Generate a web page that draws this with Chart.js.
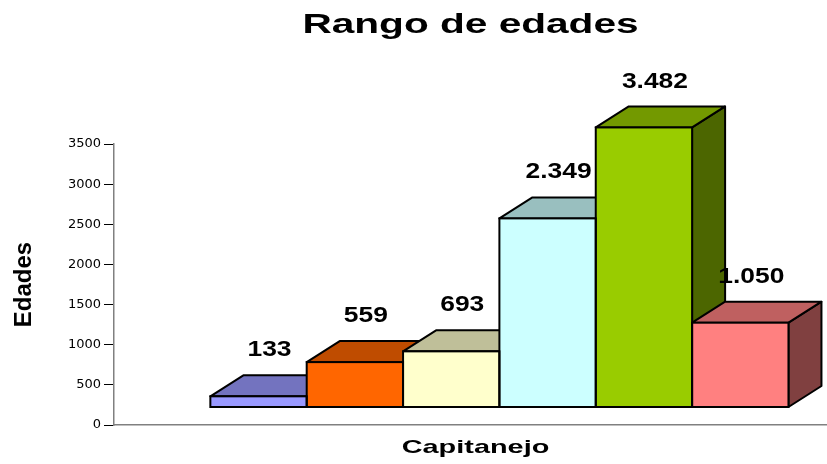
<!DOCTYPE html>
<html>
<head>
<meta charset="utf-8">
<script src="https://cdn.jsdelivr.net/npm/chart.js@4"></script>
<style>
  html, body { margin: 0; padding: 0; background: #fff; overflow: hidden; }
</style>
</head>
<body>
<canvas id="chart" width="827" height="464"></canvas>
<script>
'use strict';

// data
const chartTitle = 'Rango de edades';
const category = 'Capitanejo';
const axisTitle = 'Edades';
const values = [133, 559, 693, 2349, 3482, 1050];
const yMax = 3500;
const yStep = 500;

// colours: front, top (darker), side (darkest)
const frontColors = ['#9999ff', '#ff6600', '#ffffcc', '#ccffff', '#99cc00', '#ff8080'];
const topColors = ['#7373bf', '#bf4c00', '#bfbf99', '#99bfbf', '#739900', '#bf6060'];
const sideColors = ['#4c4c80', '#803300', '#808066', '#668080', '#4c6600', '#804040'];

// 3d look
const depthX = 33;
const depthY = 21;
const plotHeight = 281;
const liftPx = 18; // front faces sit a bit above the axis line
const lift = liftPx * yMax / plotHeight;

function fmt(v) {
  return String(v).replace(/\B(?=(\d{3})+(?!\d))/g, '.');
}

function poly(ctx, pts, fill) {
  ctx.beginPath();
  ctx.moveTo(pts[0][0], pts[0][1]);
  for (let i = 1; i < pts.length; i++) {
    ctx.lineTo(pts[i][0], pts[i][1]);
  }
  ctx.closePath();
  ctx.fillStyle = fill;
  ctx.fill();
  ctx.stroke();
}

function stretchedText(ctx, text, cx, cy, font, sx, baseline) {
  ctx.save();
  ctx.translate(cx, cy);
  ctx.scale(sx, 1);
  ctx.font = font;
  ctx.fillStyle = '#000';
  ctx.textAlign = 'center';
  ctx.textBaseline = baseline;
  ctx.fillText(text, 0, 0);
  ctx.restore();
}

const depthPlugin = {
  id: 'depth',
  beforeDatasetsDraw(chart) {
    const ctx = chart.ctx;
    const bars = chart.getDatasetMeta(0).data;
    ctx.save();
    ctx.lineWidth = 2;
    ctx.lineJoin = 'round';
    ctx.strokeStyle = '#000';
    bars.forEach((bar, i) => {
      const p = bar.getProps(['x', 'y', 'base', 'width'], true);
      const l = p.x - p.width / 2;
      const r = p.x + p.width / 2;
      poly(ctx, [[r, p.y], [r + depthX, p.y - depthY], [r + depthX, p.base - depthY], [r, p.base]], sideColors[i]);
      poly(ctx, [[l, p.y], [l + depthX, p.y - depthY], [r + depthX, p.y - depthY], [r, p.y]], topColors[i]);
    });
    ctx.restore();
  },
  afterDatasetsDraw(chart) {
    const ctx = chart.ctx;
    const bars = chart.getDatasetMeta(0).data;
    // outline of the front faces
    ctx.save();
    ctx.lineWidth = 2;
    ctx.strokeStyle = '#000';
    bars.forEach((bar) => {
      const p = bar.getProps(['x', 'y', 'base', 'width'], true);
      ctx.strokeRect(p.x - p.width / 2, p.y, p.width, p.base - p.y);
    });
    ctx.restore();
    bars.forEach((bar, i) => {
      const p = bar.getProps(['x', 'y'], true);
      stretchedText(ctx, fmt(values[i]), p.x + 11, p.y - depthY - 25,
        'bold 22px "Liberation Sans", Arial, sans-serif', 1.2, 'middle');
    });
  },
  afterDraw(chart) {
    const ctx = chart.ctx;
    const area = chart.chartArea;
    const cx = (area.left + area.right) / 2;
    stretchedText(ctx, chartTitle, cx, 33, 'bold 28px "Liberation Sans", Arial, sans-serif', 1.45, 'alphabetic');
    stretchedText(ctx, category, cx + 5, area.bottom + 28, 'bold 19px "Liberation Sans", Arial, sans-serif', 1.52, 'alphabetic');
  }
};

let ctx = document.getElementById('chart').getContext('2d');

new Chart(ctx, {
  type: 'bar',
  data: {
    datasets: [{
      label: category,
      data: values.map((v, i) => ({x: i, y: v})),
      backgroundColor: frontColors,
      borderWidth: 0,
      categoryPercentage: 1,
      barPercentage: 1,
      xAxisID: 'x',
      yAxisID: 'y2',
      clip: false
    }]
  },
  options: {
    responsive: false,
    animation: false,
    layout: {
      padding: {top: 144, bottom: 39, left: 0, right: 0}
    },
    plugins: {
      legend: {display: false},
      tooltip: {enabled: false},
      title: {display: false}
    },
    scales: {
      x: {
        type: 'linear',
        offset: false,
        min: -1.5,
        max: 5.9,
        grid: {display: false, drawTicks: false, offset: false},
        ticks: {display: false, stepSize: 10},
        border: {display: true, color: '#808080', width: 1.5}
      },
      y: {
        position: 'left',
        min: 0,
        max: yMax,
        ticks: {
          stepSize: yStep,
          color: '#000',
          padding: 3,
          font: {family: 'DejaVu Sans', size: 13},
          callback: (value) => String(value)
        },
        grid: {drawOnChartArea: false, drawTicks: true, tickLength: 10, color: '#000'},
        border: {color: '#808080', width: 1.5},
        title: {
          display: true,
          text: axisTitle,
          color: '#000',
          font: {family: 'Liberation Sans', size: 24, weight: 'bold'},
          padding: {top: 10, bottom: 0}
        },
        afterFit(scale) {
          scale.width = 114;
        }
      },
      y2: {
        display: false,
        min: -lift,
        max: yMax - lift
      }
    }
  },
  plugins: [depthPlugin]
});
</script>
</body>
</html>
